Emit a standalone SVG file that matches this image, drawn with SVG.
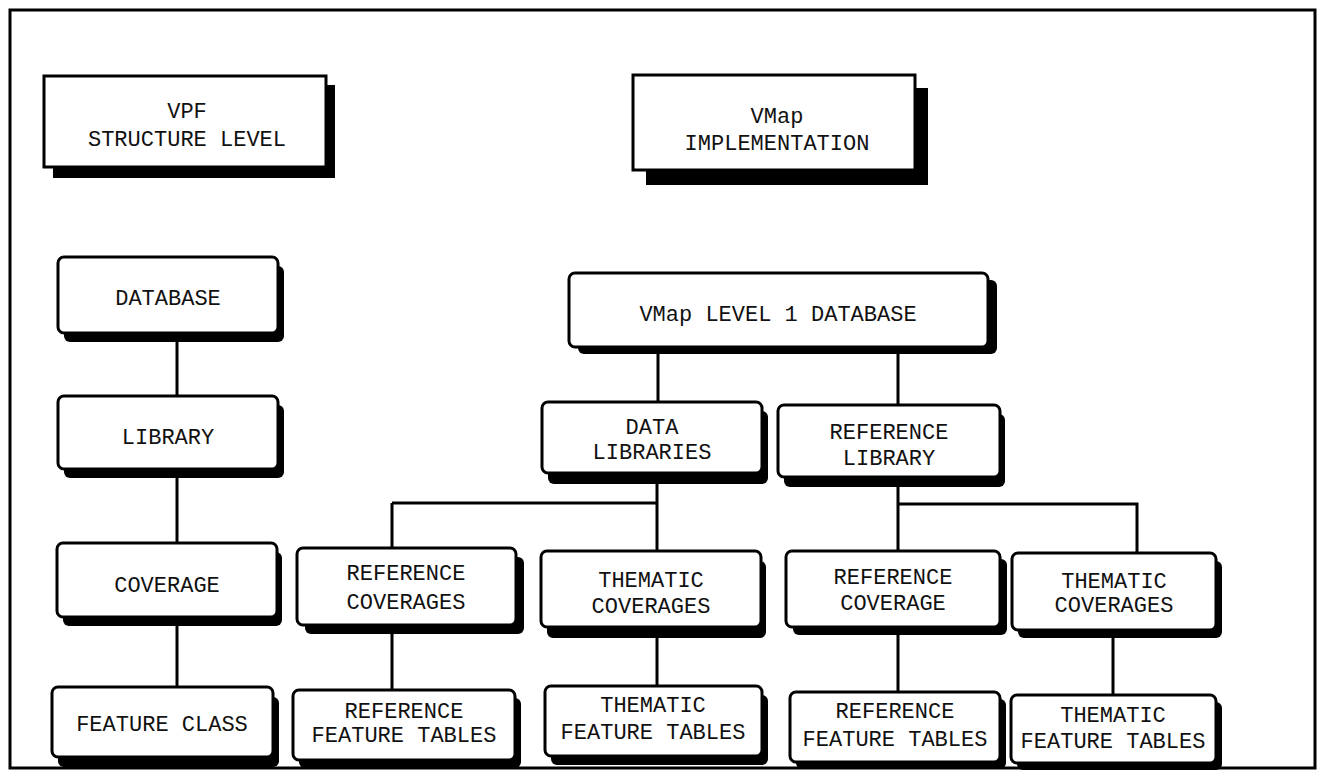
<svg xmlns="http://www.w3.org/2000/svg" width="1322" height="777" viewBox="0 0 1322 777">
<style>
.sh{fill:#000}
.bx{fill:#fff;stroke:#000;stroke-width:3}
.t{font-family:"Liberation Mono","DejaVu Sans Mono",monospace;font-size:22px;fill:#111;text-anchor:middle;dominant-baseline:central}
.c{stroke:#000;stroke-width:3;fill:none}
</style>
<rect x="0" y="0" width="1322" height="777" fill="#fff"/>
<rect x="10" y="10" width="1305" height="758" fill="none" stroke="#000" stroke-width="3"/>
<g id="connectors">
<path class="c" d="M177 342V396M177 478V543M177 626V687"/>
<path class="c" d="M658 354V402M898 354V405"/>
<path class="c" d="M657 484V551M392 503H657M392 503V548"/>
<path class="c" d="M898 487V551M898 504H1137V553"/>
<path class="c" d="M392 634V690M657 638V686M898 635V692M1113 638V695"/>
</g>
<g id="vpf"><rect class="sh" x="53" y="85" width="282" height="93"/><rect class="bx" x="44" y="76" width="282" height="91"/><text class="t" x="187" y="112">VPF</text><text class="t" x="187" y="140">STRUCTURE LEVEL</text></g>
<g id="vmap-impl"><rect class="sh" x="646" y="88" width="282" height="97"/><rect class="bx" x="633" y="75" width="282" height="95"/><text class="t" x="777" y="117">VMap</text><text class="t" x="777" y="144">IMPLEMENTATION</text></g>
<g id="database"><rect class="sh" x="64" y="266" width="220" height="76" rx="6"/><rect class="bx" x="58" y="257" width="220" height="76" rx="6"/><text class="t" x="168" y="299">DATABASE</text></g>
<g id="library"><rect class="sh" x="64" y="405" width="220" height="73" rx="6"/><rect class="bx" x="58" y="396" width="220" height="73" rx="6"/><text class="t" x="168" y="438">LIBRARY</text></g>
<g id="coverage"><rect class="sh" x="63" y="552" width="219" height="74" rx="6"/><rect class="bx" x="57" y="543" width="220" height="74" rx="6"/><text class="t" x="167" y="586">COVERAGE</text></g>
<g id="feature-class"><rect class="sh" x="58" y="697" width="221" height="70" rx="6"/><rect class="bx" x="52" y="687" width="221" height="70" rx="6"/><text class="t" x="162" y="725">FEATURE CLASS</text></g>
<g id="vmap-l1db"><rect class="sh" x="578" y="280" width="419" height="74" rx="6"/><rect class="bx" x="569" y="273" width="419" height="74" rx="6"/><text class="t" x="778" y="315">VMap LEVEL 1 DATABASE</text></g>
<g id="data-libraries"><rect class="sh" x="548" y="411" width="220" height="73" rx="6"/><rect class="bx" x="542" y="402" width="220" height="71" rx="6"/><text class="t" x="652" y="428">DATA</text><text class="t" x="652" y="453">LIBRARIES</text></g>
<g id="reference-library"><rect class="sh" x="784" y="414" width="221" height="73" rx="6"/><rect class="bx" x="778" y="405" width="222" height="72" rx="6"/><text class="t" x="889" y="433">REFERENCE</text><text class="t" x="889" y="459">LIBRARY</text></g>
<g id="ref-coverages"><rect class="sh" x="305" y="557" width="219" height="77" rx="6"/><rect class="bx" x="297" y="548" width="219" height="77" rx="6"/><text class="t" x="406" y="574">REFERENCE</text><text class="t" x="406" y="603">COVERAGES</text></g>
<g id="them-coverages"><rect class="sh" x="547" y="561" width="219" height="77" rx="6"/><rect class="bx" x="541" y="551" width="220" height="76" rx="6"/><text class="t" x="651" y="581">THEMATIC</text><text class="t" x="651" y="607">COVERAGES</text></g>
<g id="ref-coverage"><rect class="sh" x="793" y="559" width="214" height="76" rx="6"/><rect class="bx" x="786" y="551" width="214" height="76" rx="6"/><text class="t" x="893" y="578">REFERENCE</text><text class="t" x="893" y="604">COVERAGE</text></g>
<g id="them-coverages-2"><rect class="sh" x="1018" y="561" width="204" height="77" rx="6"/><rect class="bx" x="1012" y="553" width="204" height="77" rx="6"/><text class="t" x="1114" y="582">THEMATIC</text><text class="t" x="1114" y="606">COVERAGES</text></g>
<g id="ref-feature-tables"><rect class="sh" x="299" y="698" width="222" height="70" rx="6"/><rect class="bx" x="293" y="690" width="222" height="70" rx="6"/><text class="t" x="404" y="712">REFERENCE</text><text class="t" x="404" y="736">FEATURE TABLES</text></g>
<g id="them-feature-tables"><rect class="sh" x="551" y="695" width="217" height="70" rx="6"/><rect class="bx" x="545" y="686" width="217" height="70" rx="6"/><text class="t" x="653" y="706">THEMATIC</text><text class="t" x="653" y="733">FEATURE TABLES</text></g>
<g id="ref-feature-tables-2"><rect class="sh" x="796" y="699" width="210" height="70" rx="6"/><rect class="bx" x="790" y="692" width="210" height="70" rx="6"/><text class="t" x="895" y="712">REFERENCE</text><text class="t" x="895" y="740">FEATURE TABLES</text></g>
<g id="them-feature-tables-2"><rect class="sh" x="1017" y="702" width="205" height="68" rx="6"/><rect class="bx" x="1011" y="695" width="205" height="68" rx="6"/><text class="t" x="1113" y="716">THEMATIC</text><text class="t" x="1113" y="742">FEATURE TABLES</text></g>
</svg>
